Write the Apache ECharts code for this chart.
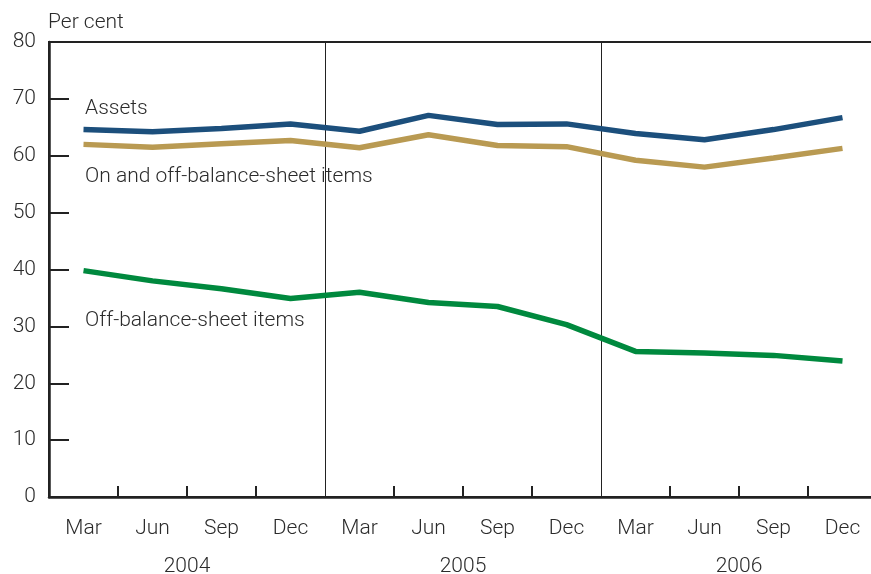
<!DOCTYPE html>
<html><head><meta charset="utf-8">
<script src="https://cdn.jsdelivr.net/npm/echarts@6/dist/echarts.min.js"></script>
<style>html,body{margin:0;padding:0;background:#fff}#c{width:871px;height:574px}</style>
</head><body><div id="c"></div>
<script>
const months = ['Mar','Jun','Sep','Dec','Mar','Jun','Sep','Dec','Mar','Jun','Sep','Dec'];
const years = ['2004','2005','2006'];
const yTicks = [0,10,20,30,40,50,60,70,80];
const assets = [64.6,64.2,64.8,65.6,64.3,67.1,65.5,65.6,63.9,62.8,64.6,66.7];
const onOff = [62.0,61.5,62.1,62.7,61.4,63.7,61.8,61.6,59.2,58.0,59.6,61.3];
const offBal = [39.8,38.0,36.6,34.9,36.0,34.2,33.5,30.3,25.6,25.3,24.9,23.9];
const seriesNames = ['Assets','On and off-balance-sheet items','Off-balance-sheet items'];

const FONT = 'Roboto';
const FS = 21;
const TXT = '#2b2b2b';
const chart = echarts.init(document.getElementById('c'));
chart.setOption({
  animation:false,
  grid:{left:49,top:42,width:828,height:455,outerBoundsMode:'none',containLabel:false,
    show:true,borderColor:'#222',borderWidth:2},
  xAxis:[{
    type:'category', data: months.map((m,i)=>i+'|'+m), boundaryGap:true,
    axisLine:{show:true,lineStyle:{color:'#222',width:2.5}},
    axisTick:{show:true,inside:true,length:11,lineStyle:{color:'#222',width:2},
      interval:(i)=> i!==0 && i!==4 && i!==8},
    splitLine:{show:true,interval:(i)=> i===4||i===8,lineStyle:{color:'#222',width:1}},
    axisLabel:{formatter:(v)=>v.split('|')[1],margin:21,fontFamily:FONT,fontWeight:300,fontSize:FS,color:TXT,interval:0}
  },{
    type:'category', data: years, position:'bottom', boundaryGap:true,
    axisLine:{show:false}, axisTick:{show:false}, splitLine:{show:false},
    axisLabel:{margin:59,fontFamily:FONT,fontWeight:300,fontSize:FS,color:TXT}
  }],
  yAxis:{
    type:'value', min:yTicks[0], max:yTicks[yTicks.length-1], interval:10,
    name:'Per cent', nameLocation:'end', nameGap:9,
    nameTextStyle:{fontFamily:FONT,fontWeight:300,fontSize:FS,color:TXT,align:'left',padding:[0,0,0,-1]},
    axisLine:{show:true,lineStyle:{color:'#222',width:2.5}},
    axisTick:{show:true,inside:true,length:20,lineStyle:{color:'#222',width:2}},
    splitLine:{show:false},
    axisLabel:{margin:13,fontFamily:FONT,fontWeight:300,fontSize:FS,color:TXT}
  },
  series:[
    {name:seriesNames[0],type:'line',data:assets,symbol:'none',lineStyle:{color:'#1c4f7c',width:5.5},z:3},
    {name:seriesNames[1],type:'line',data:onOff,symbol:'none',lineStyle:{color:'#b99a52',width:5.5},z:3},
    {name:seriesNames[2],type:'line',data:offBal,symbol:'none',lineStyle:{color:'#00893e',width:5.5},z:3}
  ],
  graphic:[
    {type:'text',left:85,top:98,style:{text:seriesNames[0],font:'300 '+FS+'px '+FONT,fill:TXT}},
    {type:'text',left:85,top:166,style:{text:seriesNames[1],font:'300 '+FS+'px '+FONT,fill:TXT}},
    {type:'text',left:85,top:310,style:{text:seriesNames[2],font:'300 '+FS+'px '+FONT,fill:TXT}}
  ]
});
</script></body></html>
